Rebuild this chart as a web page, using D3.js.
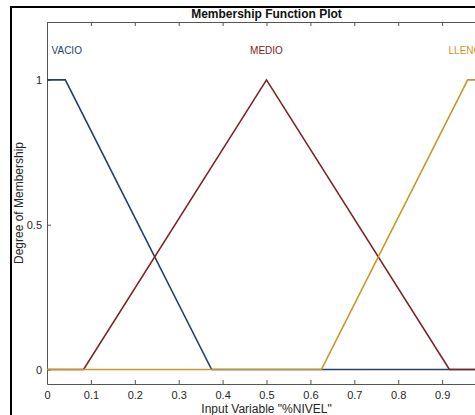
<!DOCTYPE html>
<html>
<head>
<meta charset="utf-8">
<script src="https://d3js.org/d3.v7.min.js"></script>
<style>
    body { margin: 0; background: #fff; }
    svg { display: block; font-family: "Liberation Sans", Arial, sans-serif; }
    .axis path, .axis line { stroke: #555; stroke-width: 1; }
    .axis text { fill: #262626; font-size: 11px; }
    .mf-line { fill: none; stroke-width: 1.6; }
</style>
</head>
<body>
<div id="chart"></div>
<script>
    // Membership functions of "%NIVEL", breakpoints
    const mfNames = ['VACIO', 'MEDIO', 'LLENO'];
    const mfColors = ['#22406e', '#7e2222', '#c9962c'];
    const vacioX = [0, 0.0417, 0.375, 1];
    const vacioY = [1, 1, 0, 0];
    const medioX = [0, 0.0833, 0.5, 0.9167, 1];
    const medioY = [0, 0, 1, 0, 0];
    const llenoX = [0, 0.625, 0.9583, 1];
    const llenoY = [0, 0, 1, 1];
    const labelX = [0.045, 0.5, 0.952];
    const labelY = 1.1;
    // the tick at 1 falls outside the cropped window
    const xTicks = [0, 0.1, 0.2, 0.3, 0.4, 0.5, 0.6, 0.7, 0.8, 0.9];
    const yTicks = [0, 0.5, 1];

    const width = 475, height = 415;
    const plot = { left: 47, right: 486, top: 22, bottom: 384 };

    const svg = d3.select('#chart')
        .append('svg')
        .attr('width', width)
        .attr('height', height);

    const x = d3.scaleLinear().domain([0, 1]).range([plot.left, plot.right]);
    const y = d3.scaleLinear().domain([-0.05, 1.2]).range([plot.bottom, plot.top]);

    // outer frame of the figure (cropped screenshot)
    svg.append('path')
        .attr('d', `M11,${height} L11,7 L${width},7`)
        .attr('fill', 'none')
        .attr('stroke', '#000')
        .attr('stroke-width', 2);

    // axes, MATLAB style with inward ticks
    svg.append('g')
        .attr('class', 'axis')
        .attr('transform', `translate(0,${plot.bottom})`)
        .call(d3.axisBottom(x).tickValues(xTicks).tickSize(-4).tickSizeOuter(0).tickPadding(7)
            .tickFormat(d => d === 0 ? '0' : d3.format('.1f')(d)));

    svg.append('g')
        .attr('class', 'axis')
        .attr('transform', `translate(0,${plot.top})`)
        .call(d3.axisTop(x).tickValues(xTicks).tickSize(-4).tickSizeOuter(0).tickFormat(''));

    svg.append('g')
        .attr('class', 'axis')
        .attr('transform', `translate(${plot.left},0)`)
        .call(d3.axisLeft(y).tickValues(yTicks).tickSize(-4).tickSizeOuter(0).tickPadding(5)
            .tickFormat(d => d === 0.5 ? '0.5' : d3.format('d')(d)));

    // membership function lines, drawn in order so LLENO ends on top
    const series = [
        vacioX.map((v, i) => [v, vacioY[i]]),
        medioX.map((v, i) => [v, medioY[i]]),
        llenoX.map((v, i) => [v, llenoY[i]])
    ];
    const line = d3.line().x(d => x(d[0])).y(d => y(d[1]));

    svg.selectAll('.mf-line')
        .data(series)
        .enter()
        .append('path')
        .attr('class', 'mf-line')
        .attr('d', line)
        .attr('stroke', (d, i) => mfColors[i]);

    svg.selectAll('.mf-label')
        .data(mfNames)
        .enter()
        .append('text')
        .attr('class', 'mf-label')
        .attr('x', (d, i) => x(labelX[i]))
        .attr('y', y(labelY))
        .attr('dy', '0.35em')
        .attr('text-anchor', 'middle')
        .attr('font-size', '10px')
        .attr('fill', (d, i) => mfColors[i])
        .text(d => d);

    // title and axis labels
    svg.append('text')
        .attr('x', x(0.5))
        .attr('y', 18)
        .attr('text-anchor', 'middle')
        .attr('font-size', '12px')
        .attr('font-weight', 'bold')
        .attr('fill', '#111')
        .text('Membership Function Plot');

    svg.append('text')
        .attr('x', x(0.5))
        .attr('y', 413)
        .attr('text-anchor', 'middle')
        .attr('font-size', '12px')
        .attr('fill', '#262626')
        .text('Input Variable "%NIVEL"');

    svg.append('text')
        .attr('transform', `translate(23,${(plot.top + plot.bottom) / 2}) rotate(-90)`)
        .attr('text-anchor', 'middle')
        .attr('font-size', '12px')
        .attr('fill', '#262626')
        .text('Degree of Membership');
</script>
</body>
</html>
